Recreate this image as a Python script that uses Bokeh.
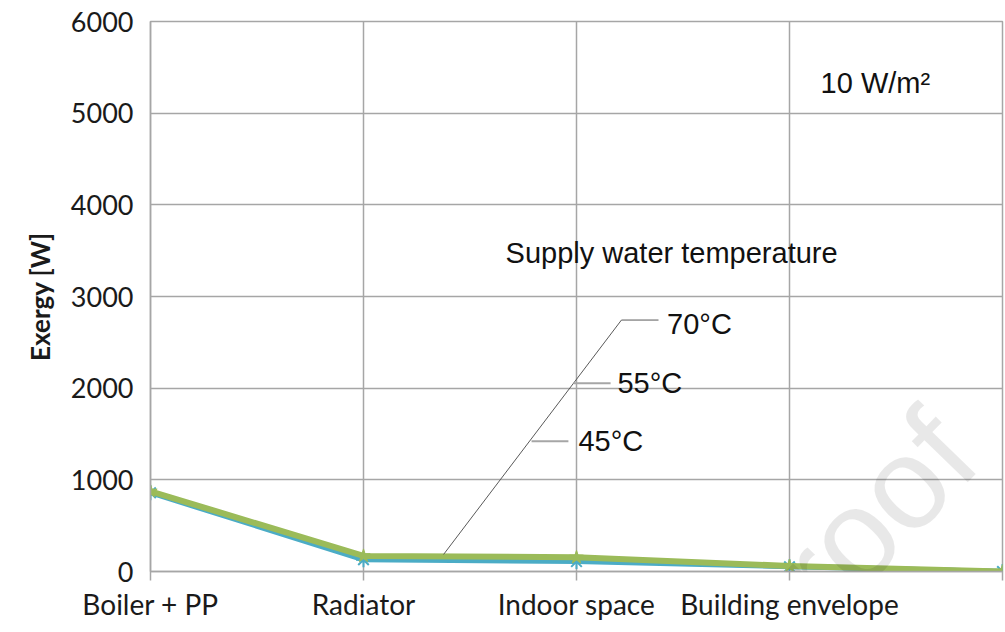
from bokeh.plotting import figure
from bokeh.models import Range1d, FixedTicker, Label, NumeralTickFormatter
from bokeh.embed import file_html
from bokeh.resources import INLINE

# ---- data ----
categories = ["Boiler + PP", "Radiator", "Indoor space", "Building envelope", ""]
x_pos = [0, 1, 2, 3, 4]
exergy_45 = [858, 128, 108, 52, 0]
exergy_55 = [866, 150, 130, 56, 0]
exergy_70 = [875, 170, 155, 60, 0]
y_ticks = [0, 1000, 2000, 3000, 4000, 5000, 6000]
series_labels = ["45°C", "55°C", "70°C"]

GRID = "#a6a6a6"

p = figure(width=1005, height=632, x_range=Range1d(0, 4), y_range=Range1d(0, 6000),
           output_backend="svg", toolbar_location=None,
           min_border_left=150, min_border_right=3, min_border_top=21, min_border_bottom=61)
p.background_fill_color = "white"
p.border_fill_color = "white"
p.outline_line_color = GRID
p.outline_line_width = 1.5

# axes
p.xaxis.ticker = FixedTicker(ticks=x_pos)
p.xaxis.major_label_overrides = {i: c for i, c in zip(x_pos, categories)}
p.xaxis.major_tick_out = 9
p.xaxis.major_tick_in = 0
p.xaxis.minor_tick_line_color = None
p.xaxis.axis_line_color = GRID
p.xaxis.axis_line_width = 1.5
p.xaxis.major_tick_line_color = GRID
p.xaxis.major_tick_line_width = 1.5
p.xaxis.major_label_text_font = "Lato"
p.xaxis.major_label_text_font_size = "28px"
p.xaxis.major_label_text_color = "#1a1a1a"
p.xaxis.major_label_standoff = 6

p.yaxis.ticker = FixedTicker(ticks=y_ticks)
p.yaxis.formatter = NumeralTickFormatter(format="0")
p.yaxis.major_tick_out = 0
p.yaxis.major_tick_in = 0
p.yaxis.minor_tick_line_color = None
p.yaxis.axis_line_color = GRID
p.yaxis.axis_line_width = 1.5
p.yaxis.major_label_text_font = "Lato"
p.yaxis.major_label_text_font_size = "27px"
p.yaxis.major_label_text_color = "#1a1a1a"
p.yaxis.major_label_standoff = 17
p.yaxis.axis_label = "Exergy [W]"
p.yaxis.axis_label_text_font = "Lato"
p.yaxis.axis_label_text_font_style = "bold"
p.yaxis.axis_label_text_font_size = "26px"
p.yaxis.axis_label_text_color = "#1a1a1a"
p.yaxis.axis_label_standoff = 12

p.xgrid.grid_line_color = GRID
p.xgrid.grid_line_width = 1.5
p.ygrid.grid_line_color = GRID
p.ygrid.grid_line_width = 1.5

# series
p.line(x_pos, exergy_55, line_color="#4F81BD", line_width=5)
p.line(x_pos, exergy_45, line_color="#4BACC6", line_width=5)
p.scatter(x_pos, exergy_45, marker="asterisk", size=15, line_color="#4BACC6", line_width=2)
p.line(x_pos, exergy_70, line_color="#9BBB59", line_width=6)
p.scatter(x_pos, exergy_70, marker="star", size=14, fill_color="#9BBB59", line_color="#9BBB59")

# callouts
FONT = "Liberation Sans"
p.line([1.376, 2.211, 2.385], [186, 2743, 2743], line_color="#595959", line_width=1)
p.line([1.986, 2.160], [2055, 2055], line_color="#a6a6a6", line_width=2)
p.line([1.789, 1.962], [1421, 1421], line_color="#a6a6a6", line_width=2)
for (lx, ly), txt in zip([(2.009, 1421), (2.192, 2055), (2.425, 2700)], series_labels):
    p.add_layout(Label(x=lx, y=ly, text=txt, text_font=FONT, text_font_size="29px",
                       text_color="#111111", text_baseline="middle"))

p.add_layout(Label(x=1.667, y=3475, text="Supply water temperature", text_font=FONT,
                   text_font_size="29px", text_color="#111111", text_baseline="middle"))
p.add_layout(Label(x=3.146, y=5333, text="10 W/m²", text_font=FONT,
                   text_font_size="29px", text_color="#111111", text_baseline="middle"))

# watermark
wm = Label(x=3.042, y=-1366, text="proof", angle=0.80, text_font="Liberation Sans",
           text_font_size="130px", text_color="black", text_alpha=0.09)
p.add_layout(wm)

# panel letter, mostly cut off at the left edge
p.add_layout(Label(x=-0.77, y=-510, text="b)", text_font="Lato", text_font_size="28px",
                   text_color="#111111", text_baseline="middle"))

open("out.html", "w").write(file_html(p, INLINE))
